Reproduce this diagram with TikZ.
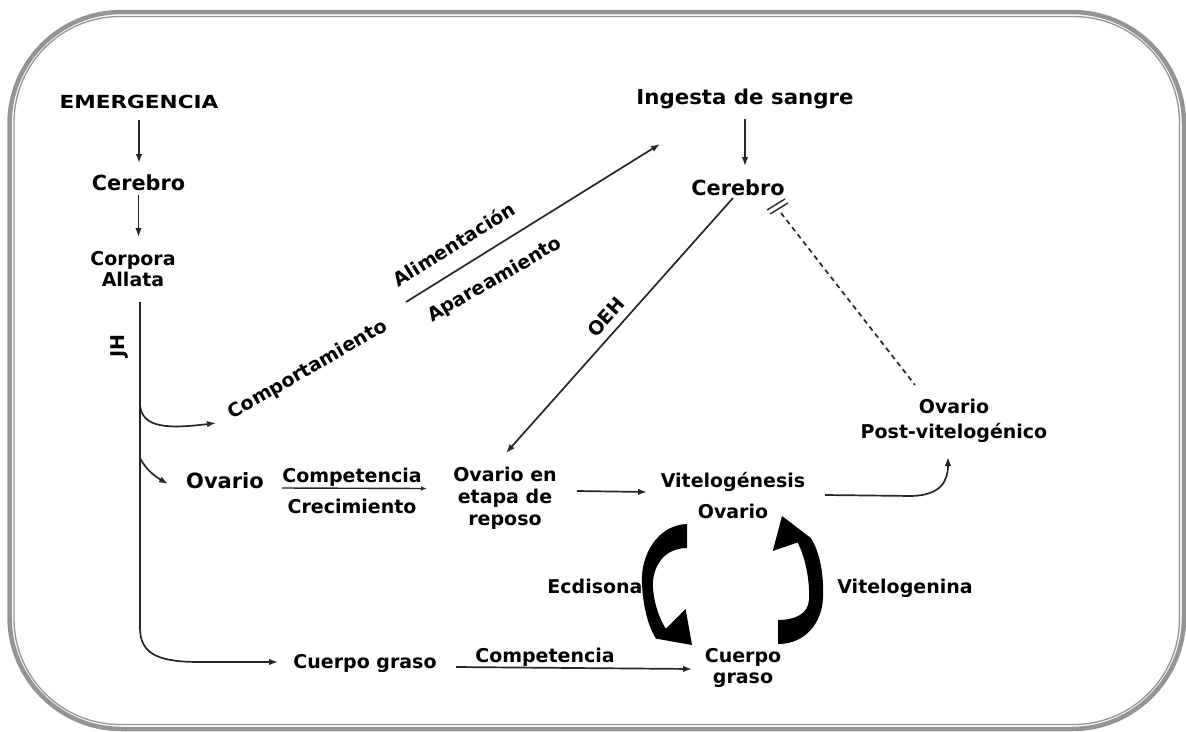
\documentclass[tikz,border=0pt]{standalone}
\usepackage{fontspec}
\setmainfont{DejaVu Sans}
\usetikzlibrary{arrows.meta}
\begin{document}
\begin{tikzpicture}[x=1pt,y=-1pt,
  lbl/.style={font=\fontsize{19}{21.7}\selectfont\bfseries, inner sep=0pt, anchor=base, align=center},
  rlbl/.style={font=\fontsize{19}{21.7}\selectfont\bfseries, inner sep=0pt, anchor=center},
  conn/.style={draw=black!85, line width=1.7pt, -{Latex[length=9pt,width=6.5pt]}},
  thin/.style={draw=black!85, line width=1.7pt},
  frame/.style={draw=black!42, rounded corners=#1},
  bigarrow/.style={fill=black, draw=none}]
\useasboundingbox (0,0) rectangle (1186,731);
\fill[white] (0,0) rectangle (1186,731);
% frame
\draw[frame=112, line width=4.5pt] (9.5,12) rectangle (1184,729);
\draw[frame=106, line width=1.3pt] (14,16.5) rectangle (1179.5,724.5);

% nodes (multi-line nodes: base = baseline of last line)
\node[lbl, font=\fontsize{18}{21}\selectfont\bfseries] (emerg) at (139,108.5) {\scalebox{1.2}[1]{EMERGENCIA}};
\node[lbl, font=\fontsize{20.8}{24}\selectfont\bfseries] (cerL) at (138.5,190) {Cerebro};
\node[lbl, font=\fontsize{19}{21}\selectfont\bfseries] (corp) at (133,286) {Corpora\\Allata};
\node[lbl, font=\fontsize{20.5}{24}\selectfont\bfseries] (ingesta) at (745,104) {\scalebox{1.04}[1]{Ingesta de sangre}};
\node[lbl, font=\fontsize{20.8}{24}\selectfont\bfseries] (cerR) at (738,195) {Cerebro};
\node[rlbl, rotate=30] (comp) at (308,370) {Comportamiento};
\node[rlbl, rotate=32] (alim) at (454,244) {Alimentación};
\node[rlbl, rotate=30] (apar) at (495,280) {Apareamiento};
\node[rlbl, rotate=48] (oeh) at (606,317) {OEH};
\node[rlbl, rotate=90] (jh) at (119,346) {JH};
\node[lbl, font=\fontsize{21}{24}\selectfont\bfseries] (ovL) at (225,488) {Ovario};
\node[lbl] (compA) at (352,482) {Competencia};
\node[lbl] (crec) at (352,513) {Crecimiento};
\node[lbl] (repo) at (505,525) {Ovario en\\etapa de\\reposo};
\node[lbl] (vitg) at (733,487) {Vitelogénesis};
\node[lbl] (ovC) at (733,518) {Ovario};
\node[lbl] (ecd) at (595,593) {Ecdisona};
\node[lbl] (vitn) at (905,593) {Vitelogenina};
\node[lbl, font=\fontsize{19}{20.5}\selectfont\bfseries] (cgR) at (743,683) {Cuerpo\\graso};
\node[lbl] (compB) at (545,662) {Competencia};
\node[lbl] (cgL) at (365,668) {Cuerpo graso};
\node[lbl, font=\fontsize{19}{25}\selectfont\bfseries] (post) at (954,438) {Ovario\\Post-vitelogénico};

% coordinates for free ends
\coordinate (jhTop) at (140,302);
\coordinate (brC) at (140,405);
\coordinate (brO) at (140,458);
\coordinate (behS) at (406,302);
\coordinate (behE) at (660,144);

% connectors
\draw[conn] (emerg.south |- 0,120) -- (emerg.south |- 0,163);
\draw[conn] (cerL.south |- 0,195) -- (cerL.south |- 0,237);
\draw[conn] (jhTop) -- (140,628) .. controls (140,656) and (162,662) .. (200,662) -- (278,662);
\draw[conn] (brC) .. controls (142,428) and (168,429) .. (216,423);
\draw[conn] (brO) .. controls (146,470) and (156,477) .. (168,484);
\draw[conn] (behS) -- (behE);
\draw[conn] (ingesta.south |- 0,119) -- (ingesta.south |- 0,166);
\draw[conn] (733,198) -- (506,453);
\draw[thin, dash pattern=on 5pt off 4pt] (781,213) -- (915,385);
\draw[thin, line width=1.4pt] (767,210) -- (785,199);
\draw[thin, line width=1.4pt] (770,214) -- (788,203);
\draw[draw=black!85, line width=1.4pt, -{Latex[length=6pt,width=4.5pt]}] (282,488) -- (427,488.5);
\draw[conn] (577,491) -- (647,492);
\draw[conn] (825,495) -- (912,496) .. controls (940,495) and (948,482) .. (948,457);
\draw[conn] (456,667) -- (692,669);

% big black cyclic arrows (Ovario -> Cuerpo graso, Cuerpo graso -> Ovario)
\fill[bigarrow] (687,524) .. controls (657,525) and (640,556) .. (642,584)
  .. controls (643,606) and (648,626) .. (655.9,638.6)
  -- (692,645) -- (685.6,609) -- (665.8,628.7)
  .. controls (657,615) and (652,594) .. (653,581)
  .. controls (655,561) and (668,548) .. (687,548) -- cycle;
\fill[bigarrow] (778,644) .. controls (806,644) and (822,622) .. (823,598)
  .. controls (824,575) and (820,552) .. (810.7,537.9)
  -- (782,516) -- (772.8,550.9) -- (797.5,542.5)
  .. controls (805,556) and (810,580) .. (809,600)
  .. controls (808,614) and (795,620) .. (778,620) -- cycle;
\end{tikzpicture}
\end{document}
